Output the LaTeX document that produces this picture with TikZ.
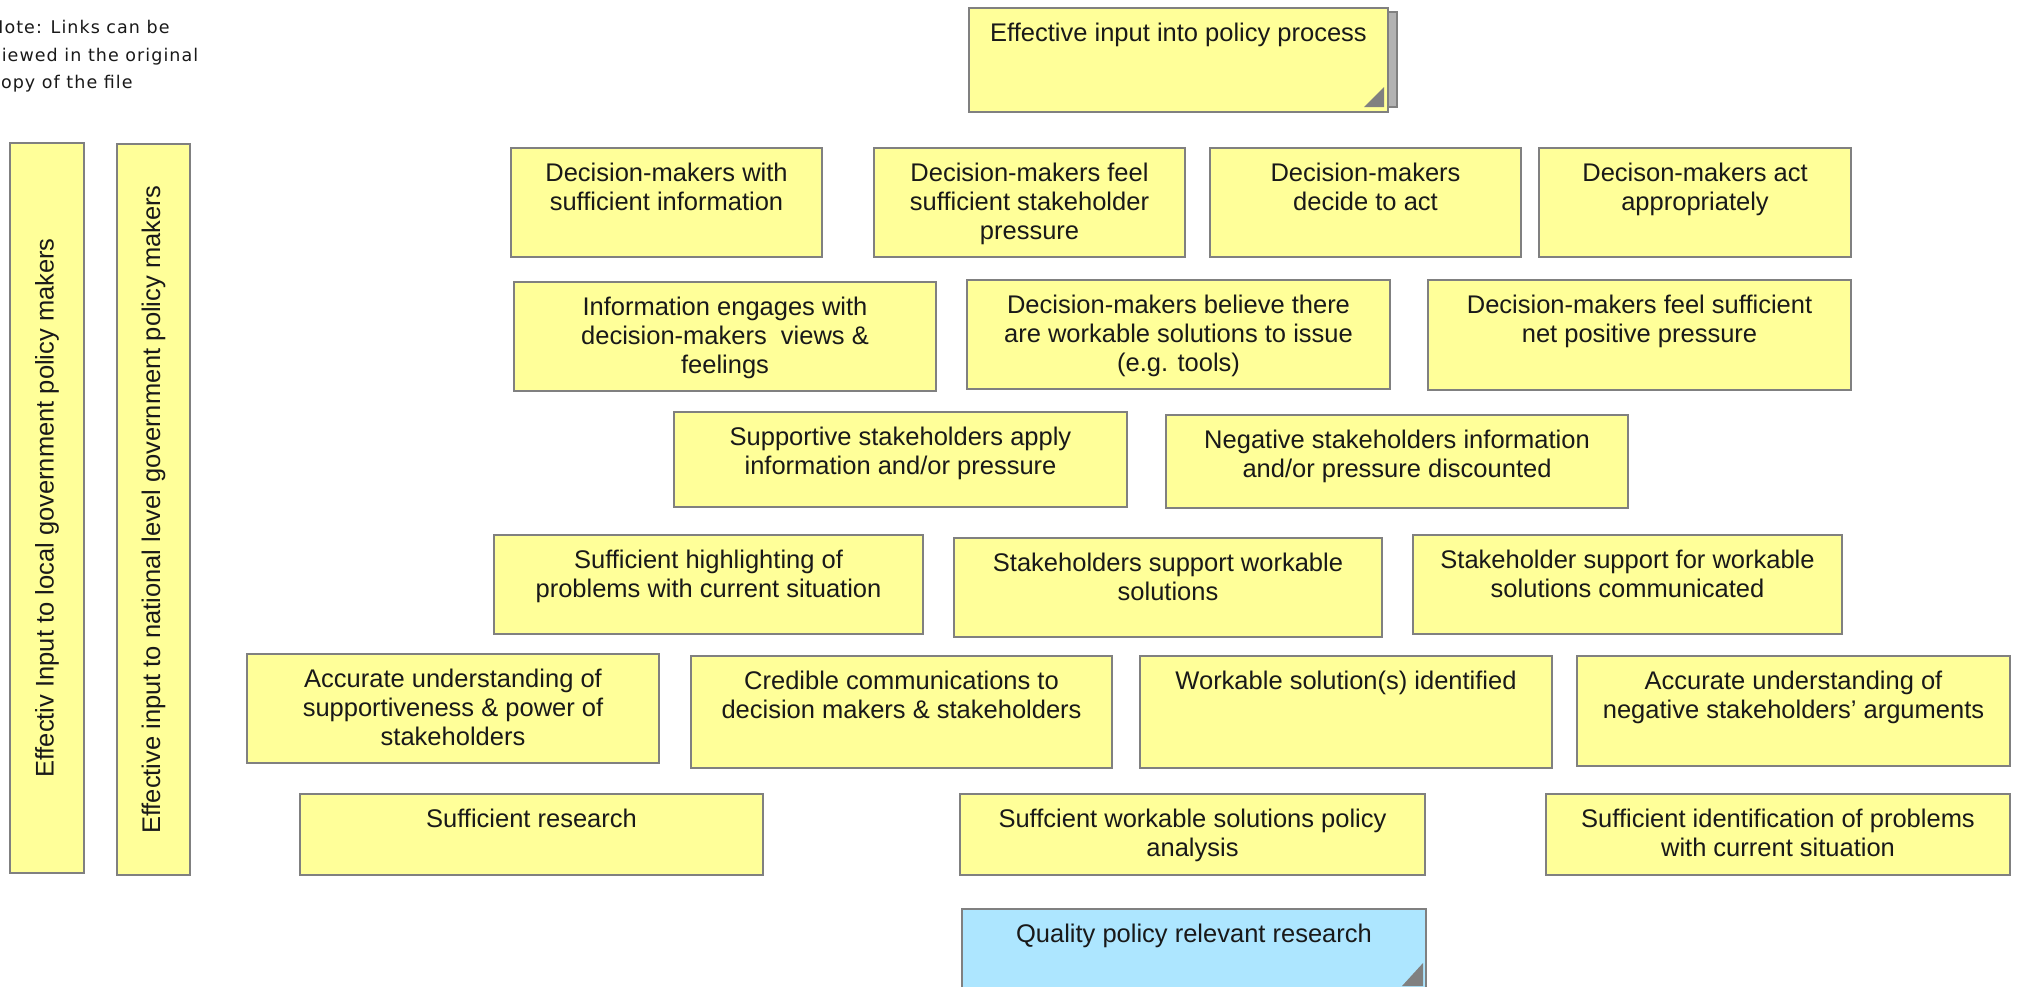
\documentclass[tikz,border=0pt]{standalone}
\usepackage{fontspec}
\setmainfont{Liberation Sans}
\newfontfamily\notefont[LetterSpace=6]{DejaVu Sans}
\usetikzlibrary{fit}
\definecolor{cardfill}{RGB}{255,255,153}
\definecolor{cardline}{RGB}{128,128,128}
\definecolor{goalfill}{RGB}{173,230,255}
\begin{document}
\begin{tikzpicture}[x=0.5pt,y=-0.5pt,
	card/.style={draw=cardline,fill=cardfill,line width=1pt,inner sep=0pt},
	txt/.style={anchor=north,align=center,inner sep=8pt,text=black!90,font=\fontsize{12.75}{14.5}\selectfont},
	corner/.style={fill=cardline}]
	\useasboundingbox (0,0) rectangle (2018,986);
	% note, cut at the left edge
	\node[anchor=north west,inner sep=0pt,align=left,text=black!90,font=\notefont\fontsize{8.75}{13.75}\selectfont] (note) at (-10,20) {Note: Links can be\\viewed in the original\\copy of the file};
	% the two long side cards
	\node[card,fit={(10,143) (84,873)}] (localBox) {};
	\node[rotate=90,text=black!90,font=\fontsize{12.75}{14.5}\selectfont] (localTxt) at (localBox.center) {Effectiv Input to local government policy makers};
	\node[card,fit={(117,144) (190,875)}] (nationalBox) {};
	\node[rotate=90,text=black!90,font=\fontsize{12.75}{14.5}\selectfont] (nationalTxt) at (nationalBox.center) {Effective input to national level government policy makers};
	% top goal
	\draw[cardline,fill=black!30,line width=1pt] (1380,12) rectangle (1397,107);
	\node[card,fit={(969,8) (1388,112)},label={[txt]north:Effective input into policy process}] (eff) {};
	\fill[corner] (1364,107)--(1384,87)--(1384,107)--cycle;
	% row 1
	\node[card,fit={(511,148) (822,257)},label={[txt]north:{Decision-makers with\\sufficient information}}] (dmInfo) {};
	\node[card,fit={(874,148) (1185,257)},label={[txt]north:{Decision-makers feel\\sufficient stakeholder\\pressure}}] (dmPressure) {};
	\node[card,fit={(1210,148) (1521,257)},label={[txt]north:{Decision-makers\\decide to act}}] (dmDecide) {};
	\node[card,fit={(1539,148) (1851,257)},label={[txt]north:{Decison-makers act\\appropriately}}] (dmAct) {};
	% row 2
	\node[card,fit={(514,282) (936,391)},label={[txt]north:{Information engages with\\decision-makers\ \ views \&\\feelings}}] (infoViews) {};
	\node[card,fit={(967,280) (1390,389)},label={[txt]north:{Decision-makers believe there\\are workable solutions to issue\\(e.g. tools)}}] (dmSolutions) {};
	\node[card,fit={(1428,280) (1851,390)},label={[txt]north:{Decision-makers feel sufficient\\net positive pressure}}] (dmNetPos) {};
	% row 3
	\node[card,fit={(674,412) (1127,507)},label={[txt]north:{Supportive stakeholders apply\\information and/or pressure}}] (supApply) {};
	\node[card,fit={(1166,415) (1628,508)},label={[txt]north:{Negative stakeholders information\\and/or pressure discounted}}] (negDiscount) {};
	% row 4
	\node[card,fit={(494,535) (923,634)},label={[txt]north:{Sufficient highlighting of\\problems with current situation}}] (highlight) {};
	\node[card,fit={(954,538) (1382,637)},label={[txt]north:{Stakeholders support workable\\solutions}}] (supWorkable) {};
	\node[card,fit={(1413,535) (1842,634)},label={[txt]north:{Stakeholder support for workable\\solutions communicated}}] (supComm) {};
	% row 5
	\node[card,fit={(247,654) (659,763)},label={[txt]north:{Accurate understanding of\\supportiveness \& power of\\stakeholders}}] (undSupport) {};
	\node[card,fit={(691,656) (1112,768)},label={[txt]north:{Credible communications to\\decision makers \& stakeholders}}] (credComm) {};
	\node[card,fit={(1140,656) (1552,768)},label={[txt]north:{Workable solution(s) identified}}] (solIdent) {};
	\node[card,fit={(1577,656) (2010,766)},label={[txt]north:{Accurate understanding of\\negative stakeholders' arguments}}] (undNegative) {};
	% row 6
	\node[card,fit={(300,794) (763,875)},label={[txt]north:{Sufficient research}}] (research) {};
	\node[card,fit={(960,794) (1425,875)},label={[txt]north:{Suffcient workable solutions policy\\analysis}}] (policyAnalysis) {};
	\node[card,fit={(1546,794) (2010,875)},label={[txt]north:{Sufficient identification of problems\\with current situation}}] (identProblems) {};
	% bottom objective
	\node[card,fill=goalfill,fit={(962,909) (1426,990)},label={[txt]north:{Quality policy relevant research}}] (quality) {};
	\fill[corner] (1402,986)--(1423,963)--(1423,986)--cycle;
\end{tikzpicture}
\end{document}
